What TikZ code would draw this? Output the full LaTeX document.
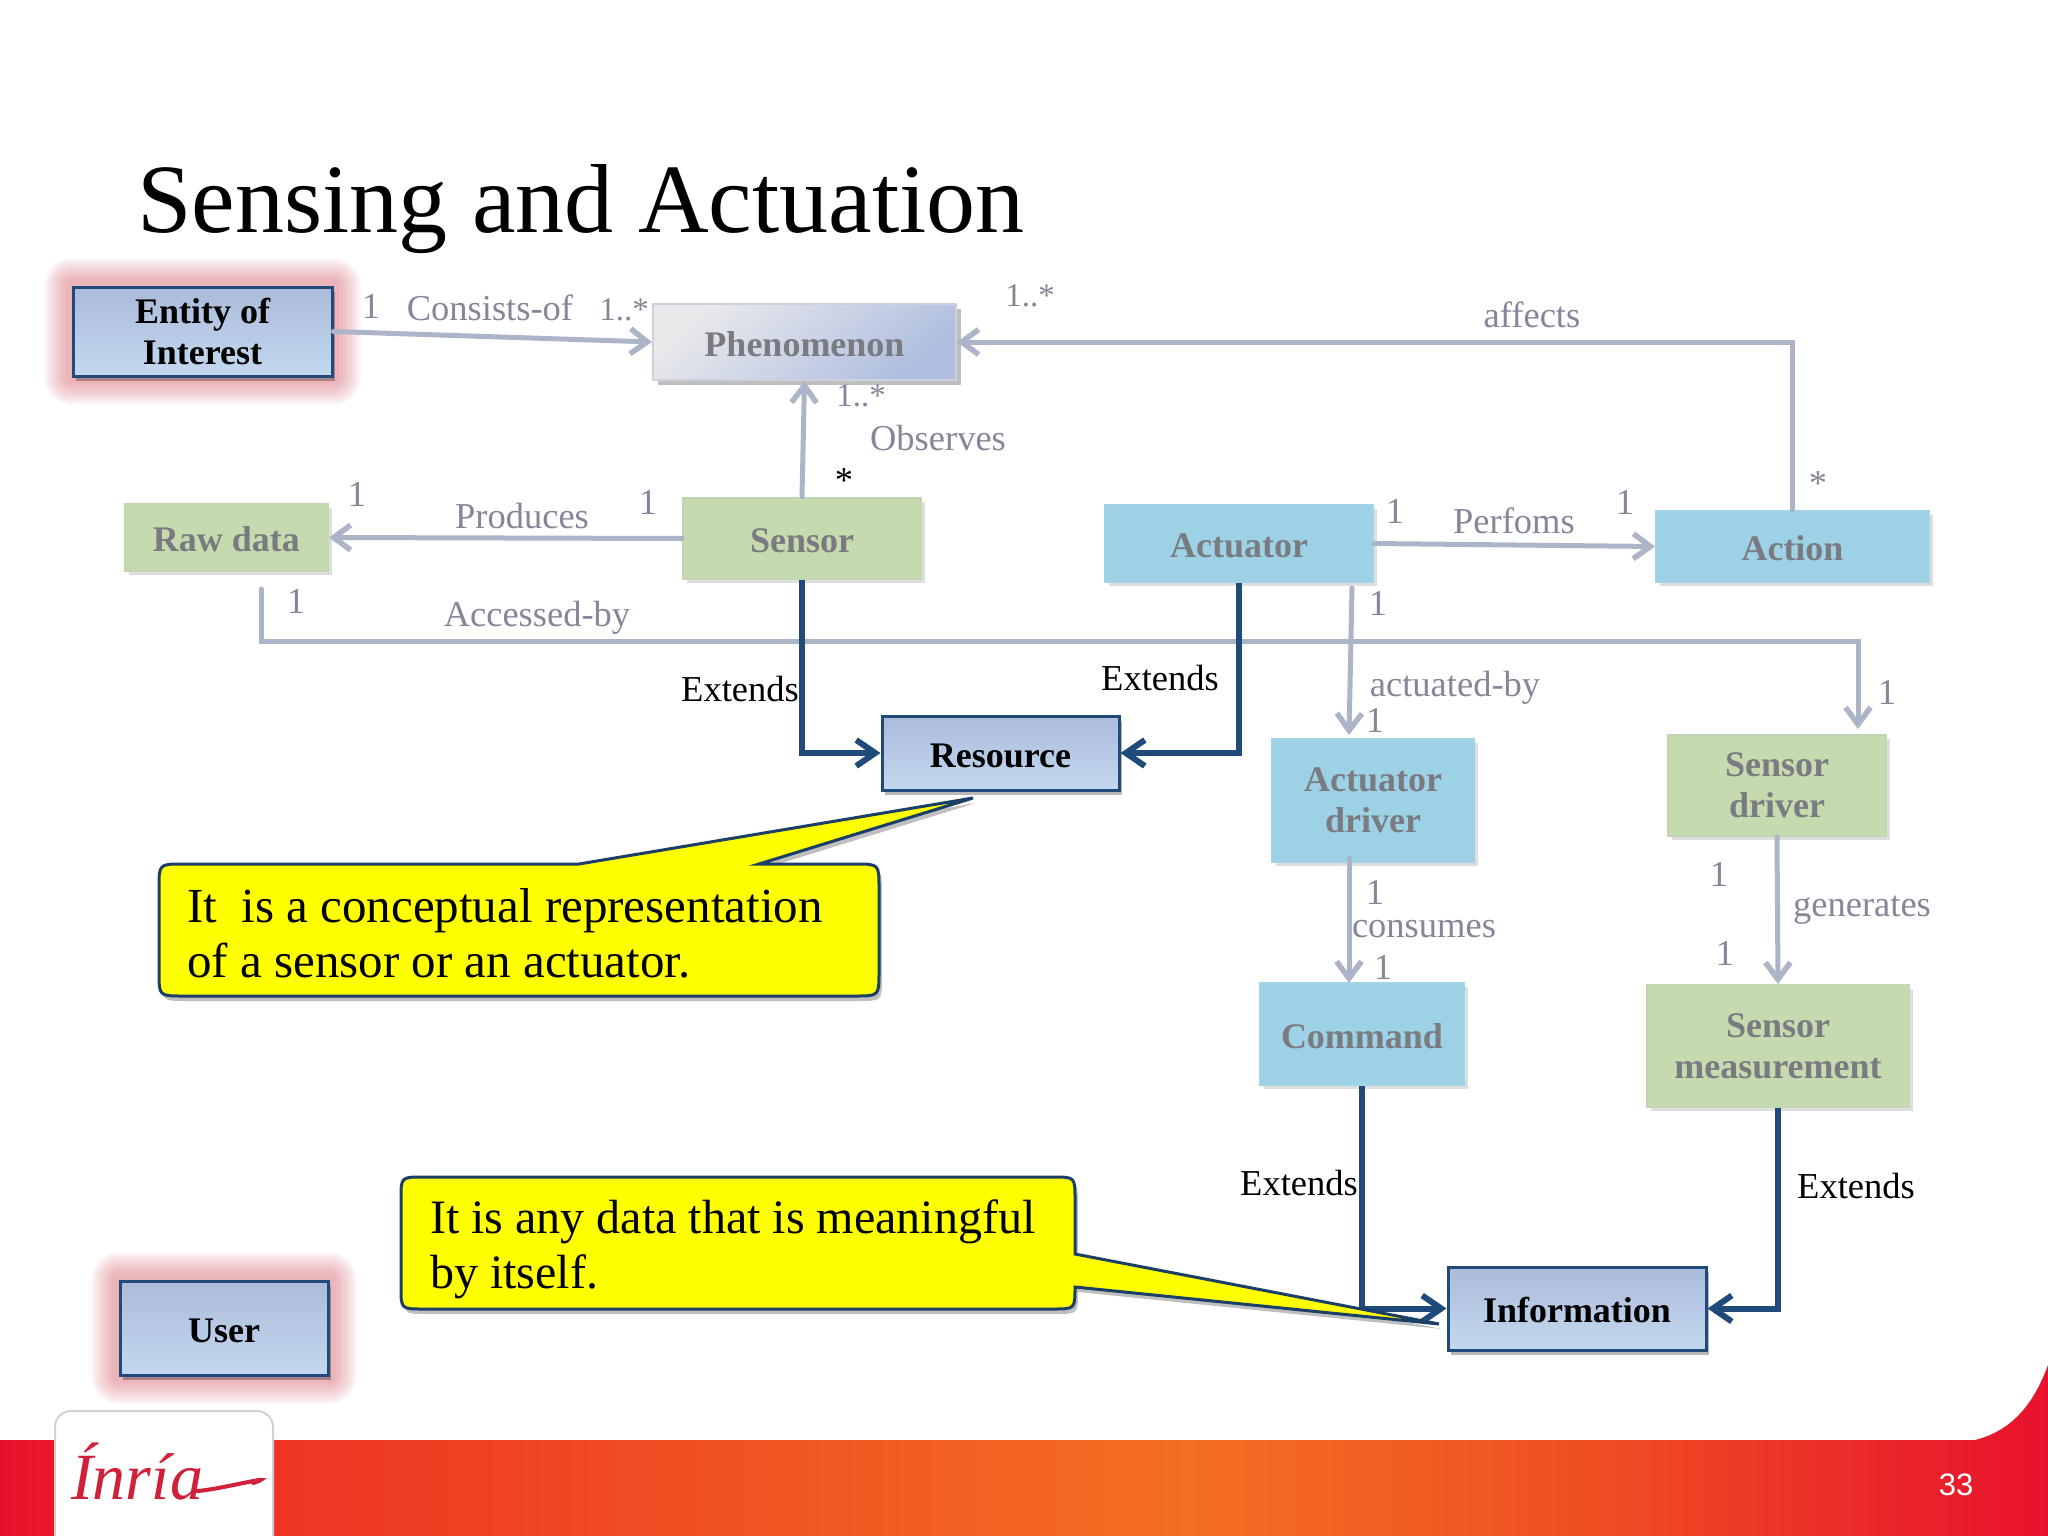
\documentclass[tikz,border=0pt]{standalone}
\usepackage{fontspec}
\setmainfont{Liberation Serif}
\newfontfamily\numfont{Liberation Sans}
\usetikzlibrary{arrows.meta,calc,shadows,backgrounds}
\definecolor{lbl}{HTML}{858799}
\definecolor{lineg}{HTML}{ABB5C7}
\definecolor{dark}{HTML}{1F4A7A}
\definecolor{txtdim}{HTML}{7A7B80}
\definecolor{rA}{HTML}{E8112D}
\definecolor{rB}{HTML}{EE3424}
\definecolor{rC}{HTML}{F36F21}
\definecolor{rD}{HTML}{EF4E23}
\definecolor{glowc}{HTML}{D8626F}
\definecolor{InriaRed}{HTML}{D0203A}
\definecolor{ATop}{HTML}{ABBBDA}
\definecolor{ABot}{HTML}{C3D8F0}
\definecolor{GFill}{HTML}{C6DAB0}
\definecolor{GEdge}{HTML}{C2D6B4}
\definecolor{CFill}{HTML}{9CD1E6}
\definecolor{CEdge}{HTML}{A3D3E6}
\definecolor{PEdge}{HTML}{CDD1DE}
\definecolor{PLeft}{HTML}{E9E9EC}
\definecolor{PRight}{HTML}{AFBEDF}
\definecolor{CallEdge}{HTML}{1B3F66}
\definecolor{CallFill}{HTML}{FFFF00}
\pgfdeclarehorizontalshading{footshade}{100bp}{color(0bp)=(rA); color(25bp)=(rA); color(31.5bp)=(rB); color(54bp)=(rC); color(64bp)=(rD); color(75bp)=(rA); color(100bp)=(rA)}
\tikzset{
  boxbase/.style={rectangle,inner sep=0pt,align=center,font=\fontsize{36}{41}\selectfont\bfseries,
    execute at begin node={\rule{0pt}{29pt}}},
  softshadow/.style={drop shadow={shadow xshift=4pt,shadow yshift=-4pt,opacity=.13,fill=black}},
  bluebox/.style={boxbase,draw=dark,line width=3pt,top color=ATop,bottom color=ABot,text=black,
    drop shadow={shadow xshift=3pt,shadow yshift=-5pt,opacity=.28,fill=black}},
  greenbox/.style={boxbase,softshadow,draw=GEdge,line width=2pt,fill=GFill,text=txtdim},
  cyanbox/.style={boxbase,softshadow,draw=CEdge,line width=2pt,fill=CFill,text=txtdim},
  phenbox/.style={boxbase,drop shadow={shadow xshift=5pt,shadow yshift=-5pt,opacity=.25,fill=black},draw=PEdge,line width=2pt,top color=PLeft,bottom color=PRight,shading angle=40,text=txtdim},
  lab/.style={inner sep=0pt,text=lbl,font=\fontsize{36.5}{40}\selectfont},
  mult/.style={inner sep=0pt,text=lbl,font=\fontsize{33}{40}\selectfont},
  blab/.style={inner sep=0pt,text=black,font=\fontsize{36.5}{40}\selectfont},
  grayline/.style={draw=lineg,line width=5pt,-{Straight Barb[length=17pt,width=25pt,line width=5.5pt]},line cap=round,line join=miter},
  darkline/.style={draw=dark,line width=6pt,-{Straight Barb[length=19pt,width=26pt,line width=6pt]},line cap=butt,line join=miter},
  calloutbox/.style={draw=CallEdge,line width=3pt,fill=CallFill,
    drop shadow={shadow xshift=3pt,shadow yshift=-5pt,opacity=.25,fill=black}},
  calloutA/.style={inner sep=0pt,anchor=west,align=left,text=black,font=\fontsize{49}{55}\selectfont},
  calloutB/.style={inner sep=0pt,anchor=west,align=left,text=black,font=\fontsize{48}{55}\selectfont},
}
\newcommand{\glowbox}[1]{%
  \begin{pgfonlayer}{background}
    \foreach \e in {6,9,...,27}{
      \fill[glowc,opacity=.075,rounded corners=\e] ($(#1.north west)+(-\e,-\e)$) rectangle ($(#1.south east)+(\e,\e)$);
    }
  \end{pgfonlayer}}
\begin{document}
\begin{tikzpicture}[x=1pt,y=-1pt]
\useasboundingbox (0,0) rectangle (2048,1536);
\begin{pgfonlayer}{background}
\fill[white] (0,0) rectangle (2048,1536);
\end{pgfonlayer}

% footer band
\shade[shading=footshade] (0,1440) -- (1975,1440) .. controls (2015,1430) and (2035,1400) .. (2048,1365) -- (2048,1536) -- (0,1536) -- cycle;
\draw[draw=black!18,line width=2pt,fill=white,rounded corners=16] (55,1540) -- (55,1411) -- (273,1411) -- (273,1540);
\node[inner sep=0pt,text=InriaRed,font=\fontsize{66}{70}\selectfont\itshape] (logo) at (137,1472) {Ínría};
\draw[InriaRed,line width=4pt,line cap=round] (logo.east) ++(-6,19) .. controls +(20,-1) and +(30,-10) .. ++(56,-8);
\node[inner sep=0pt,text=white,font=\fontsize{31}{34}\selectfont\numfont] (pageno) at (1956,1485) {33};

% title
\node[inner sep=0pt,anchor=base west,text=black,font=\fontsize{98}{100}\selectfont] (title) at (137,232) {Sensing and Actuation};

% boxes
\node[bluebox,minimum width=259,minimum height=89] (entity) at (202.5,331.5) {Entity of\\Interest};
\node[phenbox,minimum width=303,minimum height=76] (phen) at (804.5,342) {Phenomenon};
\node[greenbox,minimum width=203,minimum height=67] (raw) at (226.5,537.5) {Raw data};
\node[greenbox,minimum width=238,minimum height=81] (sensor) at (802,538.5) {Sensor};
\node[cyanbox,minimum width=268,minimum height=77] (actuator) at (1239,543.5) {Actuator};
\node[cyanbox,minimum width=273,minimum height=71] (action) at (1792.5,546.5) {Action};
\node[bluebox,minimum width=237,minimum height=74] (resource) at (1000.5,753) {Resource};
\node[cyanbox,minimum width=202,minimum height=123] (adriver) at (1373,800.5) {Actuator\\driver};
\node[greenbox,minimum width=218,minimum height=101] (sdriver) at (1777,785.5) {Sensor\\driver};
\node[cyanbox,minimum width=204,minimum height=102] (command) at (1362,1034) {Command};
\node[greenbox,minimum width=262,minimum height=122] (smeas) at (1778,1046) {Sensor\\measurement};
\node[bluebox,minimum width=258,minimum height=83] (info) at (1577,1308.5) {Information};
\node[bluebox,minimum width=208,minimum height=94] (user) at (224,1328) {User};
\glowbox{entity}
\glowbox{user}

% free connector ends
\coordinate (accA) at (261,589);
\coordinate (accM) at (1858,641);
\coordinate (accB) at (1858,729);
\coordinate (actA) at (1352,588);
\coordinate (actB) at (1349,735);
\coordinate (conA) at (1349,858);
\coordinate (conB) at (1349,983);

% gray connectors
\draw[grayline] (entity.east) -- (phen.west);
\draw[grayline] (action.north) |- (phen.east);
\draw[grayline] (sensor.north) -- (phen.south);
\draw[grayline] (sensor.west) -- (raw.east);
\draw[grayline] (actuator.east) -- (action.west);
\draw[grayline] (accA) |- (accM) -- (accB);
\draw[grayline] (actA) -- (actB);
\draw[grayline] (conA) -- (conB);
\draw[grayline] (sdriver.south) -- (smeas.north);

% dark connectors
\draw[darkline] (sensor.south) |- (resource.west);
\draw[darkline] (actuator.south) |- (resource.east);
\draw[darkline] (command.south) |- (info.west);
\draw[darkline] (smeas.south) |- (info.east);

% callouts
\draw[calloutbox] (973,798) -- (579,864) -- (183,864) .. controls (159,864) .. (159,888) -- (159,972) .. controls (159,996) .. (183,996) -- (855,996) .. controls (879,996) .. (879,972) -- (879,888) .. controls (879,864) .. (855,864) -- (759,864) -- cycle;
\node[calloutA] (textA) at (187,933) {It\ \ is a conceptual representation\\of a sensor or an actuator.};
\draw[calloutbox] (1439,1324) -- (1075,1287) .. controls (1075,1309) .. (1053,1309) -- (423,1309) .. controls (401,1309) .. (401,1287) -- (401,1199) .. controls (401,1177) .. (423,1177) -- (1053,1177) .. controls (1075,1177) .. (1075,1199) -- (1075,1254) -- cycle;
\node[calloutB] (textB) at (430,1249) {It is any data that is meaningful\\by itself.};

% labels
\node[lab] (l1) at (371,306) {1};
\node[lab] (l2) at (490,308) {Consists-of};
\node[mult] (l3) at (624,310) {1..*};
\node[mult] (l4) at (1030,296) {1..*};
\node[lab] (l5) at (1532,315) {affects};
\node[mult] (l6) at (861,396) {1..*};
\node[lab] (l7) at (938,438) {Observes};
\node[blab] (l8) at (844,481) {*};
\node[lab] (l9) at (1818,484) {*};
\node[lab] (l10) at (357,494) {1};
\node[lab] (l11) at (522,516) {Produces};
\node[lab] (l12) at (648,502) {1};
\node[lab] (l13) at (1395,511) {1};
\node[lab] (l14) at (1514,521) {Perfoms};
\node[lab] (l15) at (1625,502) {1};
\node[lab] (l16) at (296,601) {1};
\node[lab] (l17) at (537,618) {Accessed-by};
\node[lab] (l18) at (1378,603) {1};
\node[blab] (l19) at (740,689) {Extends};
\node[blab] (l20) at (1160,678) {Extends};
\node[lab] (l21) at (1455,688) {actuated-by};
\node[lab] (l22) at (1375,720) {1};
\node[lab] (l23) at (1887,692) {1};
\node[lab] (l24) at (1719,874) {1};
\node[lab] (l25) at (1862,910) {generates};
\node[lab] (l26) at (1375,892) {1};
\node[lab] (l27) at (1424,929) {consumes};
\node[lab] (l28) at (1383,967) {1};
\node[lab] (l29) at (1725,953) {1};
\node[blab] (l30) at (1299,1183) {Extends};
\node[blab] (l31) at (1856,1186) {Extends};
\end{tikzpicture}
\end{document}
